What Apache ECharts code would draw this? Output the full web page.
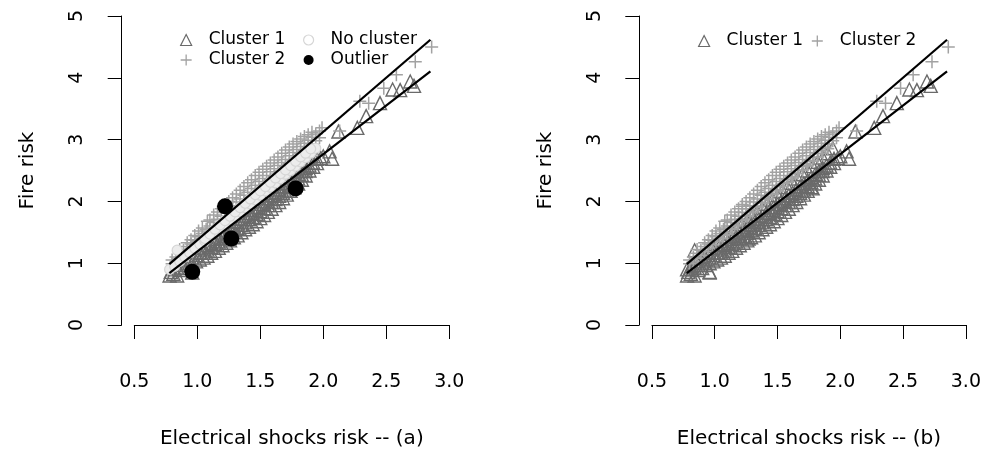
<!DOCTYPE html>
<html>
<head>
<meta charset="utf-8">
<script src="https://cdn.jsdelivr.net/npm/echarts@6/dist/echarts.min.js"></script>
<style>
  html, body { margin: 0; padding: 0; background: #fff; }
  #main { width: 984px; height: 454px; }
</style>
</head>
<body>
<div id="main"></div>
<script>
// axis ticks
var xTicks = [0.5, 1.0, 1.5, 2.0, 2.5, 3.0];
var xTickLabels = ['0.5', '1.0', '1.5', '2.0', '2.5', '3.0'];
var yTicks = [0, 1, 2, 3, 4, 5];
var yTickLabels = ['0', '1', '2', '3', '4', '5'];

// cluster 1 (below the lower line)
var cluster1 = [
  [0.78,0.80],[0.79,0.86],[0.81,0.83],[0.82,0.90],[0.84,0.80],[0.84,0.93],[0.87,0.89],[0.87,0.97],
  [0.90,0.92],[0.90,1.01],[0.93,0.97],[0.93,1.06],[0.96,0.85],[0.96,1.00],[0.96,1.09],[0.99,1.03],
  [0.99,1.13],[1.02,1.06],[1.02,1.17],[1.05,1.09],[1.05,1.17],[1.05,1.24],[1.08,1.12],[1.08,1.22],
  [1.08,1.29],[1.11,1.17],[1.11,1.26],[1.11,1.33],[1.14,1.20],[1.14,1.31],[1.14,1.39],[1.17,1.25],
  [1.17,1.35],[1.17,1.43],[1.20,1.29],[1.20,1.40],[1.20,1.48],[1.23,1.33],[1.23,1.44],[1.23,1.53],
  [1.26,1.37],[1.26,1.49],[1.26,1.58],[1.29,1.42],[1.29,1.53],[1.29,1.62],[1.32,1.45],[1.32,1.57],
  [1.32,1.67],[1.35,1.50],[1.35,1.62],[1.35,1.72],[1.38,1.55],[1.38,1.66],[1.38,1.77],[1.41,1.59],
  [1.41,1.71],[1.41,1.81],[1.44,1.63],[1.44,1.75],[1.44,1.86],[1.47,1.68],[1.47,1.80],[1.47,1.91],
  [1.50,1.73],[1.50,1.84],[1.50,1.96],[1.53,1.78],[1.53,1.89],[1.53,2.00],[1.56,1.83],[1.56,1.94],
  [1.56,2.05],[1.59,1.88],[1.59,1.99],[1.59,2.10],[1.62,1.94],[1.62,2.04],[1.62,2.14],[1.65,1.99],
  [1.65,2.09],[1.65,2.19],[1.68,2.05],[1.68,2.14],[1.68,2.24],[1.71,2.11],[1.71,2.19],[1.71,2.29],
  [1.74,2.17],[1.74,2.25],[1.74,2.34],[1.77,2.23],[1.77,2.31],[1.77,2.39],[1.80,2.29],[1.80,2.37],
  [1.80,2.44],[1.83,2.35],[1.83,2.43],[1.83,2.49],[1.86,2.42],[1.86,2.49],[1.86,2.54],[1.89,2.50],
  [1.89,2.58],[1.92,2.56],[1.92,2.63],[1.95,2.62],[1.95,2.69],[1.98,2.70],
  [2.00,2.73],[2.05,2.81],[2.07,2.69],[2.12,3.13],[2.27,3.19],[2.34,3.38],[2.45,3.59],[2.55,3.81],
  [2.61,3.80],[2.69,3.94],[2.72,3.87]
];

// cluster 2 (above the upper line)
var cluster2 = [
  [0.80,0.99],[0.80,1.05],[0.83,1.02],[0.83,1.10],[0.86,1.08],[0.86,1.16],[0.86,1.22],[0.89,1.13],
  [0.89,1.21],[0.92,1.19],[0.92,1.27],[0.92,1.33],[0.95,1.24],[0.95,1.31],[0.95,1.38],[0.98,1.30],
  [0.98,1.37],[0.98,1.45],[1.01,1.35],[1.01,1.43],[1.01,1.52],[1.04,1.40],[1.04,1.48],[1.04,1.57],
  [1.07,1.45],[1.07,1.55],[1.08,1.68],[1.10,1.50],[1.10,1.60],[1.10,1.70],[1.13,1.56],[1.13,1.66],
  [1.13,1.78],[1.16,1.60],[1.16,1.71],[1.16,1.83],[1.19,1.66],[1.19,1.76],[1.19,1.88],[1.22,1.71],
  [1.22,1.82],[1.22,1.95],[1.25,1.76],[1.25,1.88],[1.25,2.00],[1.28,1.82],[1.28,1.93],[1.28,2.06],
  [1.31,1.87],[1.31,1.99],[1.31,2.12],[1.34,1.92],[1.34,2.04],[1.34,2.18],[1.37,1.98],[1.37,2.10],
  [1.37,2.24],[1.40,2.03],[1.40,2.15],[1.40,2.30],[1.43,2.08],[1.43,2.21],[1.43,2.35],[1.46,2.13],
  [1.46,2.26],[1.46,2.42],[1.49,2.19],[1.49,2.32],[1.49,2.47],[1.52,2.24],[1.52,2.37],[1.52,2.52],
  [1.55,2.29],[1.55,2.42],[1.55,2.57],[1.58,2.35],[1.58,2.48],[1.58,2.62],[1.61,2.40],[1.61,2.53],
  [1.61,2.67],[1.64,2.45],[1.64,2.58],[1.64,2.72],[1.67,2.50],[1.67,2.63],[1.67,2.78],[1.70,2.56],
  [1.70,2.68],[1.70,2.83],[1.73,2.61],[1.73,2.74],[1.73,2.88],[1.76,2.66],[1.76,2.79],[1.76,2.93],
  [1.79,2.71],[1.79,2.84],[1.79,2.97],[1.82,2.77],[1.82,2.89],[1.82,3.01],[1.85,2.82],[1.85,2.94],
  [1.85,3.05],[1.88,2.88],[1.88,2.99],[1.88,3.08],[1.91,2.93],[1.91,3.04],[1.91,3.12],[1.94,2.98],
  [1.94,3.09],[1.97,3.03],[1.97,3.14],
  [1.99,3.19],[2.13,3.14],[2.29,3.62],[2.36,3.59],[2.48,3.83],[2.58,4.05],[2.73,4.26],[2.86,4.50]
];

// points between the two lines (no cluster in panel a), split by side for panel b
var noClusterLow = [
  [0.78,0.90],[0.82,0.95],[0.84,1.21],[0.86,1.03],[0.90,1.10],[0.94,1.17],[0.98,1.24],[1.02,1.31],
  [1.06,1.36],[1.10,1.43],[1.14,1.50],[1.18,1.56],[1.22,1.63],[1.26,1.70],[1.30,1.76],[1.34,1.83],
  [1.38,1.90],[1.42,1.96],[1.46,2.03],[1.50,2.10],[1.54,2.17],[1.58,2.23],[1.62,2.30],[1.66,2.37],
  [1.70,2.44],[1.74,2.50],[1.78,2.57],[1.82,2.64],[1.86,2.71],[1.90,2.78],[1.94,2.86]
];
var noClusterHigh = [
  [1.06,1.40],[1.10,1.47],[1.14,1.55],[1.18,1.62],[1.22,1.69],[1.26,1.76],[1.30,1.83],[1.34,1.90],
  [1.38,1.97],[1.42,2.04],[1.46,2.11],[1.50,2.17],[1.54,2.24],[1.58,2.31],[1.62,2.38],[1.66,2.45],
  [1.70,2.51],[1.74,2.58],[1.78,2.65],[1.82,2.72],[1.86,2.78],[1.90,2.85]
];

// outliers in panel a
var outliersLow = [[0.96,0.86],[1.27,1.40],[1.78,2.21]];
var outliersHigh = [[1.22,1.92]];

// fitted lines (end points)
var lineX = [0.778, 2.85];
var upperY = [0.984, 4.616];
var lowerY = [0.839, 4.104];

var c1Color = '#6a6a6a';
var c2Color = '#a2a2a2';
var ncColor = '#d6d6d6';
var plusPath = 'path://M0,5L10,5M5,0L5,10';

var chartDom = document.getElementById('main');
var myChart = echarts.init(chartDom);

function lineData(ys) {
  return lineX.map(function (x, i) { return [x, ys[i]]; });
}

function xAxisFor(idx, label) {
  return {
    type: 'value', gridIndex: idx, min: 0.5, max: 3, interval: 0.5, offset: 13,
    axisLine: { show: true, lineStyle: { color: '#000', width: 1 } },
    axisTick: { show: true, length: 14, lineStyle: { color: '#000' } },
    splitLine: { show: false },
    axisLabel: {
      color: '#000', fontSize: 19, fontFamily: 'DejaVu Sans', margin: 35,
      formatter: function (v) { var i = xTicks.indexOf(v); return i >= 0 ? xTickLabels[i] : v; }
    },
    name: label, nameLocation: 'middle', nameGap: 91,
    nameTextStyle: { color: '#000', fontSize: 20, fontFamily: 'DejaVu Sans' }
  };
}

function yAxisFor(idx) {
  return {
    type: 'value', gridIndex: idx, min: 0, max: 5, interval: 1, offset: 12.6,
    axisLine: { show: true, lineStyle: { color: '#000', width: 1 } },
    axisTick: { show: true, length: 14, lineStyle: { color: '#000' } },
    splitLine: { show: false },
    axisLabel: {
      color: '#000', fontSize: 19, fontFamily: 'DejaVu Sans', margin: 35, rotate: 90,
      formatter: function (v) { var i = yTicks.indexOf(v); return i >= 0 ? yTickLabels[i] : v; }
    },
    name: 'Fire risk', nameLocation: 'middle', nameGap: 84,
    nameTextStyle: { color: '#000', fontSize: 20, fontFamily: 'DejaVu Sans' }
  };
}

function triSeries(name, idx, data) {
  return {
    name: name, type: 'scatter', xAxisIndex: idx, yAxisIndex: idx, data: data,
    symbol: 'triangle', symbolSize: 13,
    itemStyle: { color: 'transparent', borderColor: c1Color, borderWidth: 1.4, opacity: 1 }
  };
}
function plusSeries(name, idx, data) {
  return {
    name: name, type: 'scatter', xAxisIndex: idx, yAxisIndex: idx, data: data,
    symbol: plusPath, symbolSize: 13,
    itemStyle: { color: 'transparent', borderColor: c2Color, borderWidth: 1.5, opacity: 1 }
  };
}
function fitLine(idx, ys) {
  return {
    type: 'line', xAxisIndex: idx, yAxisIndex: idx, data: lineData(ys),
    symbol: 'none', lineStyle: { color: '#000', width: 2.2 }, z: 5
  };
}

var legendText = { color: '#000', fontSize: 17, fontFamily: 'DejaVu Sans', lineHeight: 20, padding: [0, 0, 0, 12] };
var legTri = { name: 'Cluster 1', icon: 'triangle', itemStyle: { color: 'transparent', borderColor: c1Color, borderWidth: 1.2 } };
var legPlus = { name: 'Cluster 2', icon: plusPath, itemStyle: { color: 'transparent', borderColor: c2Color, borderWidth: 1.3 } };
var legNo = { name: 'No cluster', icon: 'circle', itemStyle: { color: 'transparent', borderColor: ncColor, borderWidth: 1.2 } };
var legOut = { name: 'Outlier', icon: 'circle', itemStyle: { color: '#000', opacity: 1 } };

var option = {
  animation: false,
  backgroundColor: '#fff',
  grid: [
    { left: 134.3, top: 16, width: 315, height: 310 },
    { left: 651.9, top: 16, width: 315, height: 310 }
  ],
  xAxis: [xAxisFor(0, 'Electrical shocks risk -- (a)'), xAxisFor(1, 'Electrical shocks risk -- (b)')],
  yAxis: [yAxisFor(0), yAxisFor(1)],
  legend: [
    { orient: 'vertical', left: 175, top: 25, itemWidth: 11, itemHeight: 11, itemGap: 0,
      selectedMode: false, textStyle: legendText, data: [legTri, legPlus] },
    { orient: 'vertical', left: 298, top: 25, itemWidth: 10, itemHeight: 10, itemGap: 0,
      selectedMode: false, textStyle: legendText, data: [legNo, legOut] },
    { orient: 'horizontal', left: 693, top: 26, itemWidth: 11, itemHeight: 11, itemGap: 8,
      selectedMode: false, textStyle: legendText, data: [legTri, legPlus] }
  ],
  series: [
    // panel (a)
    triSeries('Cluster 1', 0, cluster1),
    plusSeries('Cluster 2', 0, cluster2),
    {
      name: 'No cluster', type: 'scatter', xAxisIndex: 0, yAxisIndex: 0,
      data: noClusterLow.concat(noClusterHigh), symbol: 'circle', symbolSize: 10,
      itemStyle: { color: '#ececec', borderColor: ncColor, borderWidth: 1.2, opacity: 1 }
    },
    fitLine(0, upperY),
    fitLine(0, lowerY),
    {
      name: 'Outlier', type: 'scatter', xAxisIndex: 0, yAxisIndex: 0,
      data: outliersLow.concat(outliersHigh), symbol: 'circle', symbolSize: 16,
      itemStyle: { color: '#000', opacity: 1 }, z: 6
    },
    // panel (b)
    triSeries('Cluster 1', 1, cluster1.concat(noClusterLow, outliersLow)),
    plusSeries('Cluster 2', 1, cluster2.concat(noClusterHigh, outliersHigh)),
    fitLine(1, upperY),
    fitLine(1, lowerY)
  ]
};

option && myChart.setOption(option);
</script>
</body>
</html>
